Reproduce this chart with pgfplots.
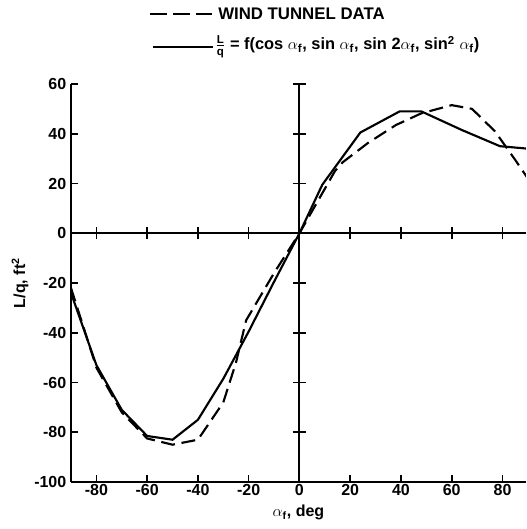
\documentclass[border=0pt]{standalone}
\usepackage{amsmath}
\usepackage{fontspec}
\setmainfont{Liberation Sans}
\usepackage{pgfplots}
\pgfplotsset{compat=1.18}

\pgfplotstableread{
x y
-90 -22
-80 -54
-70 -72
-60 -82.5
-50 -85
-40 -83
-30 -68
-25 -52
-21 -35
-10 -16
0 0
14 25
17 28.5
27 36.3
38 43.5
48 48.2
60 51.5
68 50
77 41
85 29.5
90 22
}\windtunnel

\pgfplotstableread{
x y
-90 -24
-80 -53
-70 -71
-60 -81.5
-50 -83
-40 -75
-30 -58.5
-20 -39.5
-10 -19.5
0 0
9 19.5
24 40.5
39.5 49
48 49
64 41.5
79 35
90 34
}\fitcurve

\begin{document}
\begin{tikzpicture}[font=\fontsize{12}{14}\selectfont\bfseries]
\useasboundingbox (-53.25pt,-35.25pt) rectangle (341.25pt,361.5pt);
\begin{axis}[
  scale only axis,
  width=341.25pt, height=298.5pt,
  xmin=-90, xmax=89.25, ymin=-100, ymax=60,
  axis x line*=bottom, axis y line*=left,
  axis line style={line width=1.5pt},
  xtick={-80,-60,...,80},
  ytick={-100,-80,...,60},
  tick align=inside,
  major tick length=5.25pt,
  every tick/.style={black, line width=1.2pt},
  /pgf/number format/assume math mode=true,
  tick label style={font=\fontsize{12}{14}\selectfont\bfseries},
  xticklabel style={yshift=2pt},
  label style={font=\fontsize{12}{14}\selectfont\bfseries},
  xlabel={$\alpha_{\text{f}}$, deg},
  ylabel={L/q, ft$^{\text{2}}$},
  xlabel style={at={(axis description cs:0.5,0)}, anchor=center, yshift=-23pt},
  ylabel style={at={(axis description cs:-0.112,0.5)}, anchor=center},
]
% centre lines with crossing ticks
\draw[line width=1.5pt] (axis cs:-90,0) -- (axis cs:89.25,0);
\draw[line width=1.5pt] (axis cs:0,-100) -- (axis cs:0,60);
\pgfplotsinvokeforeach{-80,-60,-40,-20,20,40,60,80}{
  \draw[line width=1.2pt] ([yshift=-4.5pt]axis cs:#1,0) -- ([yshift=4.5pt]axis cs:#1,0);
}
\pgfplotsinvokeforeach{-80,-60,-40,-20,20,40,60}{
  \draw[line width=1.2pt] ([xshift=-5pt]axis cs:0,#1) -- ([xshift=5pt]axis cs:0,#1);
}
\addplot[black, line width=1.6pt, dash pattern=on 10.5pt off 5pt] table[x=x,y=y] {\windtunnel};
\addplot[black, line width=1.6pt] table[x=x,y=y] {\fitcurve};
\end{axis}
% legend
\draw[black, line width=1.6pt, dash pattern=on 12.75pt off 4.5pt] (59.25pt,351pt) -- (106pt,351pt);
\node[anchor=west, inner sep=0pt, font=\fontsize{12.6}{14}\selectfont\bfseries] at (110.25pt,351pt) {WIND TUNNEL DATA};
\draw[black, line width=1.6pt] (61.3pt,326.5pt) -- (106.5pt,326.5pt);
\node[anchor=west, inner sep=0pt, font=\fontsize{12.3}{14}\selectfont\bfseries] at (108pt,326.5pt) {$\frac{\text{L}}{\text{q}}$ = f(cos $\alpha_{\text{f}}$, sin $\alpha_{\text{f}}$, sin 2$\alpha_{\text{f}}$, sin$^{\text{2}}$ $\alpha_{\text{f}}$)};
\end{tikzpicture}
\end{document}
